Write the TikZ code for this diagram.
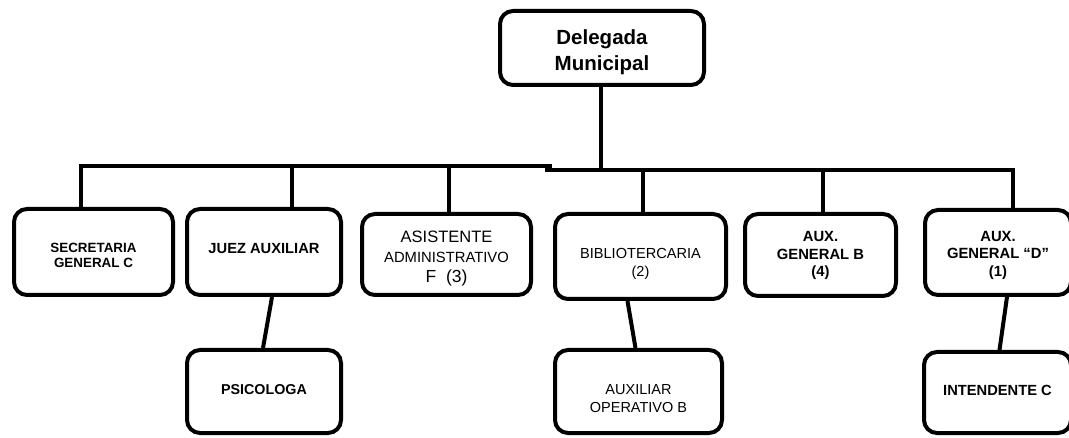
\documentclass[tikz,border=0pt]{standalone}
\usepackage{fontspec}
\setmainfont{Liberation Sans}
\newcommand\mvtext[2]{\raisebox{#1}[\height][\depth]{\begin{tabular}{@{}c@{}}#2\end{tabular}}}
\begin{document}
\begin{tikzpicture}[x=1pt,y=-1pt,
  orgbox/.style={draw=black, line width=4pt, rounded corners=13pt, fill=white,
    align=center, inner sep=0pt, text=black},
  conn/.style={draw=black, line width=4pt},
  bus/.style={draw=black, line width=4pt, line cap=rect}]
\useasboundingbox (0,0) rectangle (1069,438);

% boxes
\node[orgbox, minimum width=204pt, minimum height=74pt,
  font=\fontsize{20.5}{26}\selectfont\bfseries] (del) at (602,48)
  {\mvtext{-4pt}{Delegada\\Municipal}};
\node[orgbox, minimum width=159pt, minimum height=86pt,
  font=\fontsize{13.4}{15}\selectfont\bfseries] (sec) at (93.5,252)
  {\mvtext{-5pt}{SECRETARIA\\GENERAL C}};
\node[orgbox, minimum width=154pt, minimum height=86pt,
  font=\fontsize{14.7}{15}\selectfont\bfseries] (juez) at (264,252)
  {\mvtext{1pt}{JUEZ AUXILIAR}};
\node[orgbox, minimum width=169pt, minimum height=81pt,
  font=\fontsize{16.5}{20}\selectfont] (asis) at (446.5,254.5)
  {\mvtext{-4pt}{ASISTENTE\\
   {\fontsize{14.8}{18}\selectfont ADMINISTRATIVO}\\
   {\fontsize{17.5}{20}\selectfont F\ \ (3)}}};
\node[orgbox, minimum width=171pt, minimum height=85pt,
  font=\fontsize{14.6}{18}\selectfont] (bib) at (640.5,256.5)
  {\mvtext{-7pt}{BIBLIOTERCARIA\\
   {\fontsize{14.5}{14}\selectfont (2)}}};
\node[orgbox, minimum width=151pt, minimum height=82pt,
  font=\fontsize{14.8}{17.5}\selectfont\bfseries] (auxb) at (820.5,255)
  {\mvtext{-1pt}{AUX.\\GENERAL B\\(4)}};
\node[orgbox, minimum width=146pt, minimum height=85pt,
  font=\fontsize{14.8}{17.5}\selectfont\bfseries] (auxd) at (998,252.5)
  {\mvtext{-3pt}{AUX.\\GENERAL “D”\\(1)}};
\node[orgbox, minimum width=154pt, minimum height=83pt,
  font=\fontsize{14.3}{16}\selectfont\bfseries] (psi) at (264,391.5)
  {\mvtext{0pt}{PSICOLOGA}};
\node[orgbox, minimum width=167pt, minimum height=83pt,
  font=\fontsize{14.5}{18}\selectfont] (auxop) at (638.5,391.5)
  {\mvtext{-8pt}{AUXILIAR\\OPERATIVO B}};
\node[orgbox, minimum width=147pt, minimum height=81pt,
  font=\fontsize{14.7}{16}\selectfont\bfseries] (int) at (997.5,392.5)
  {\mvtext{0pt}{INTENDENTE C}};

% bus coordinates
\coordinate (busL) at (81,166);
\coordinate (busM) at (550,166);
\coordinate (busN) at (547,170);
\coordinate (busR) at (1013,170);
\coordinate (dtop) at (601,85);
\coordinate (dbot) at (601,170);
\coordinate (dj) at (292,166);
\coordinate (da) at (449,166);
\coordinate (db) at (643,170);
\coordinate (dx) at (823,170);

\draw[bus] (busL) -- (busM);
\draw[bus] (busN) -- (busR);
\draw[conn] (dtop) -- (dbot);
\draw[conn] (busL) -- (busL |- sec.north);
\draw[conn] (dj) -- (dj |- juez.north);
\draw[conn] (da) -- (da |- asis.north);
\draw[conn] (db) -- (db |- bib.north);
\draw[conn] (dx) -- (dx |- auxb.north);
\draw[conn] (busR) -- (busR |- auxd.north);

% slanted connectors
\draw[conn] ([xshift=8pt]juez.south) -- ([xshift=-1pt]psi.north);
\draw[conn] ([xshift=-13pt]bib.south) -- ([xshift=-3pt]auxop.north);
\draw[conn] ([xshift=9pt]auxd.south) -- ([xshift=2pt]int.north);
\end{tikzpicture}
\end{document}
